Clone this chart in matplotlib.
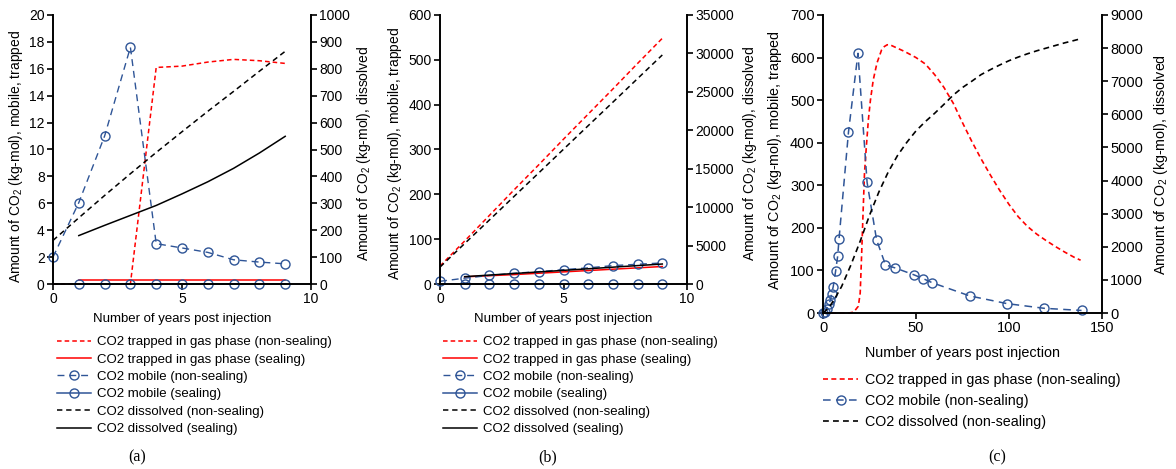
import matplotlib
matplotlib.use('Agg')
import matplotlib.pyplot as plt
import numpy as np

plt.rcParams['font.family'] = ['Liberation Sans', 'DejaVu Sans']
plt.rcParams['mathtext.fontset'] = 'custom'
plt.rcParams['mathtext.rm'] = 'Liberation Sans'
plt.rcParams['mathtext.it'] = 'Liberation Sans:italic'

RED = '#ff0000'
BLUE = '#2f5597'
BLACK = '#000000'

# ---- panel (a) ----
years_a = [0, 1, 2, 3, 4, 5, 6, 7, 8, 9]
years_a_seal = [1, 2, 3, 4, 5, 6, 7, 8, 9]
trapped_ns_a = [0, 0, 0, 0, 16.1, 16.2, 16.5, 16.7, 16.6, 16.4]
trapped_s_a = [0.3, 0.3, 0.3, 0.3, 0.3, 0.3, 0.3, 0.3, 0.3]
mobile_ns_a = [2.0, 6.05, 11.0, 17.6, 3.0, 2.68, 2.35, 1.8, 1.63, 1.5]
mobile_s_a = [0, 0, 0, 0, 0, 0, 0, 0, 0]
dissolved_ns_a = [162, 246, 329, 410, 489, 566, 642, 716, 791, 865]
dissolved_s_a = [180, 218, 255, 292, 335, 380, 430, 487, 549]

# ---- panel (b) ----
years_b = [0, 1, 2, 3, 4, 5, 6, 7, 8, 9]
years_b_seal = [1, 2, 3, 4, 5, 6, 7, 8, 9]
trapped_ns_b = [40, 96, 153, 210, 266, 323, 379, 435, 492, 548]
trapped_s_b = [16, 18.5, 21, 24, 27, 30, 33, 36, 39]
mobile_ns_b = [6, 13, 19, 24, 27.5, 32, 36, 41, 44, 47]
mobile_s_b = [0, 0, 0, 0, 0, 0, 0, 0, 0]
dissolved_ns_b = [2200, 5270, 8330, 11400, 14460, 17530, 20600, 23660, 26730, 29800]
dissolved_s_b = [955, 1160, 1365, 1570, 1775, 1980, 2190, 2395, 2600]

# ---- panel (c) ----
years_c_trap = [0, 5, 10, 14, 16.5, 19, 20, 20.8, 21.5, 22.3, 23.3, 24.4, 25.5, 27,
                29, 31.5, 33, 34.5, 36, 38, 44, 50, 55, 60, 65, 70, 75, 80, 85, 90,
                95, 100, 105, 110, 115, 120, 125, 130, 135, 138.5]
trapped_ns_c = [0, 0, 0, 0, 2, 16, 47, 141, 230, 328, 391, 454, 500, 547,
                587, 618, 626, 630, 630, 626, 614, 600, 585, 560, 530, 493, 447, 403,
                362, 324, 288, 255, 226, 203, 185, 170, 156, 143, 131, 124]
years_c_mob = [0, 1, 2, 3, 4, 4.6, 5.5, 6.8, 7.9, 8.6, 13.7, 18.8, 23.7, 28.8,
               33.6, 38.7, 48.7, 53.7, 58.8, 79, 99, 119, 139]
mobile_ns_c = [0, 3, 9, 20, 30, 44, 62, 99, 134, 173, 425, 610, 307, 172,
               113, 106, 90, 81, 71, 40, 22, 11, 6]
years_c_diss = [0, 3, 6, 10, 15, 20, 25, 30, 35, 40, 45, 50, 55, 60, 65, 70, 75,
                80, 85, 90, 95, 100, 105, 110, 115, 120, 125, 130, 135, 139]
dissolved_ns_c = [0, 150, 400, 800, 1450, 2170, 2950, 3650, 4250, 4750, 5150, 5500,
                  5780, 6030, 6300, 6580, 6810, 7000, 7200, 7350, 7490, 7620, 7730,
                  7830, 7920, 8000, 8080, 8160, 8230, 8290]

labels_full = ['CO2 trapped in gas phase (non-sealing)',
               'CO2 trapped in gas phase (sealing)',
               'CO2 mobile (non-sealing)',
               'CO2 mobile (sealing)',
               'CO2 dissolved (non-sealing)',
               'CO2 dissolved (sealing)']

red_dash = (0, (3, 2))
blk_dash = (0, (3.5, 2.5))
blu_dash = (0, (5, 3.5))
mk = dict(marker='o', ms=6.5, mfc='none', mec=BLUE, mew=1.0)

W, H = 1176, 469
fig = plt.figure(figsize=(W / 100, H / 100), dpi=100)


def setup(rect, xmax, xstep, y1max, y1step, y2max, y2step, fs):
    ax = fig.add_axes(rect)
    ax2 = ax.twinx()
    ax.set_xlim(0, xmax)
    ax.set_xticks(np.arange(0, xmax + xstep, xstep))
    ax.set_ylim(0, y1max)
    ax.set_yticks(np.arange(0, y1max + y1step, y1step))
    ax2.set_ylim(0, y2max)
    ax2.set_yticks(np.arange(0, y2max + y2step, y2step))
    for s in ['top', 'right']:
        ax.spines[s].set_visible(False)
    for s in ['top', 'left', 'bottom']:
        ax2.spines[s].set_visible(False)
    for s in ['left', 'bottom']:
        ax.spines[s].set_linewidth(1.4)
    ax2.spines['right'].set_linewidth(1.4)
    ax.tick_params(axis='both', direction='out', length=4, width=1.2, labelsize=fs, pad=2)
    ax2.tick_params(axis='y', direction='out', length=4, width=1.2, labelsize=fs, pad=2)
    return ax, ax2


def labels(ax, ax2, fs, xfs, pad, xl, yl, xr, yr):
    ax.set_xlabel('Number of years post injection', fontsize=xfs, labelpad=pad)
    ax.set_ylabel('Amount of CO$_2$ (kg-mol), mobile, trapped', fontsize=fs)
    ax2.set_ylabel('Amount of CO$_2$ (kg-mol), dissolved', fontsize=fs)
    ax.yaxis.set_label_coords(xl, yl)
    ax2.yaxis.set_label_coords(xr, yr)


# ---------- (a) ----------
ax, ax2 = setup([53 / W, 1 - 284 / H, 258 / W, 269 / H], 10, 5, 20, 2, 1000, 100, 10)
h = []
h += ax.plot(years_a, trapped_ns_a, color=RED, lw=1.1, ls=red_dash, clip_on=False)
h += ax.plot(years_a_seal, trapped_s_a, color=RED, lw=1.1, clip_on=False)
h += ax.plot(years_a, mobile_ns_a, color=BLUE, lw=1.0, ls=blu_dash, clip_on=False, **mk)
h += ax.plot(years_a_seal, mobile_s_a, color=BLUE, lw=1.1, clip_on=False, **mk)
h += ax2.plot(years_a, dissolved_ns_a, color=BLACK, lw=1.1, ls=blk_dash, clip_on=False)
h += ax2.plot(years_a_seal, dissolved_s_a, color=BLACK, lw=1.1, clip_on=False)
labels(ax, ax2, 10.0, 9.5, 5, -0.107, 0.475, 1.17, 0.485)
fig.legend(h, labels_full, loc='upper left', bbox_to_anchor=(57 / W, 1 - 336 / H),
           frameon=False, fontsize=9.5, handlelength=2.6, handletextpad=0.4,
           labelspacing=0.39, borderpad=0, borderaxespad=0, numpoints=1)
fig.text(137 / W, 1 - 457 / H, '(a)', family='Liberation Serif', fontsize=11.5,
         ha='center', va='center')

# ---------- (b) ----------
ax, ax2 = setup([440 / W, 1 - 284 / H, 247 / W, 269 / H], 10, 5, 600, 100, 35000, 5000, 10)
h = []
h += ax.plot(years_b, trapped_ns_b, color=RED, lw=1.1, ls=red_dash, clip_on=False)
h += ax.plot(years_b_seal, trapped_s_b, color=RED, lw=1.1, clip_on=False)
h += ax.plot(years_b, mobile_ns_b, color=BLUE, lw=1.0, ls=blu_dash, clip_on=False, **mk)
h += ax.plot(years_b_seal, mobile_s_b, color=BLUE, lw=1.1, clip_on=False, **mk)
h += ax2.plot(years_b, dissolved_ns_b, color=BLACK, lw=1.1, ls=blk_dash, clip_on=False)
h += ax2.plot(years_b_seal, dissolved_s_b, color=BLACK, lw=1.1, clip_on=False)
labels(ax, ax2, 10.0, 9.5, 5, -0.146, 0.485, 1.219, 0.487)
fig.legend(h, labels_full, loc='upper left', bbox_to_anchor=(443 / W, 1 - 336 / H),
           frameon=False, fontsize=9.5, handlelength=2.6, handletextpad=0.4,
           labelspacing=0.39, borderpad=0, borderaxespad=0, numpoints=1)
fig.text(548 / W, 1 - 457 / H, '(b)', family='Liberation Serif', fontsize=11.5,
         ha='center', va='center')

# ---------- (c) ----------
ax, ax2 = setup([823 / W, 1 - 313 / H, 279 / W, 298 / H], 150, 50, 700, 100, 9000, 1000, 10.5)
h = []
h += ax.plot(years_c_trap, trapped_ns_c, color=RED, lw=1.2, ls=red_dash, clip_on=False)
h += ax.plot(years_c_mob, mobile_ns_c, color=BLUE, lw=1.1, ls=blu_dash, clip_on=False, **mk)
h += ax2.plot(years_c_diss, dissolved_ns_c, color=BLACK, lw=1.2, ls=blk_dash, clip_on=False)
labels(ax, ax2, 10.3, 10.4, 8, -0.14, 0.513, 1.18, 0.5)
fig.legend(h, [labels_full[0], labels_full[2], labels_full[4]], loc='upper left',
           bbox_to_anchor=(823 / W, 1 - 373 / H), frameon=False, fontsize=10.3,
           handlelength=2.45, handletextpad=0.5, labelspacing=0.5, borderpad=0,
           borderaxespad=0, numpoints=1)
fig.text(997 / W, 1 - 457 / H, '(c)', family='Liberation Serif', fontsize=11.5,
         ha='center', va='center')

fig.savefig('out.png', dpi=100)
